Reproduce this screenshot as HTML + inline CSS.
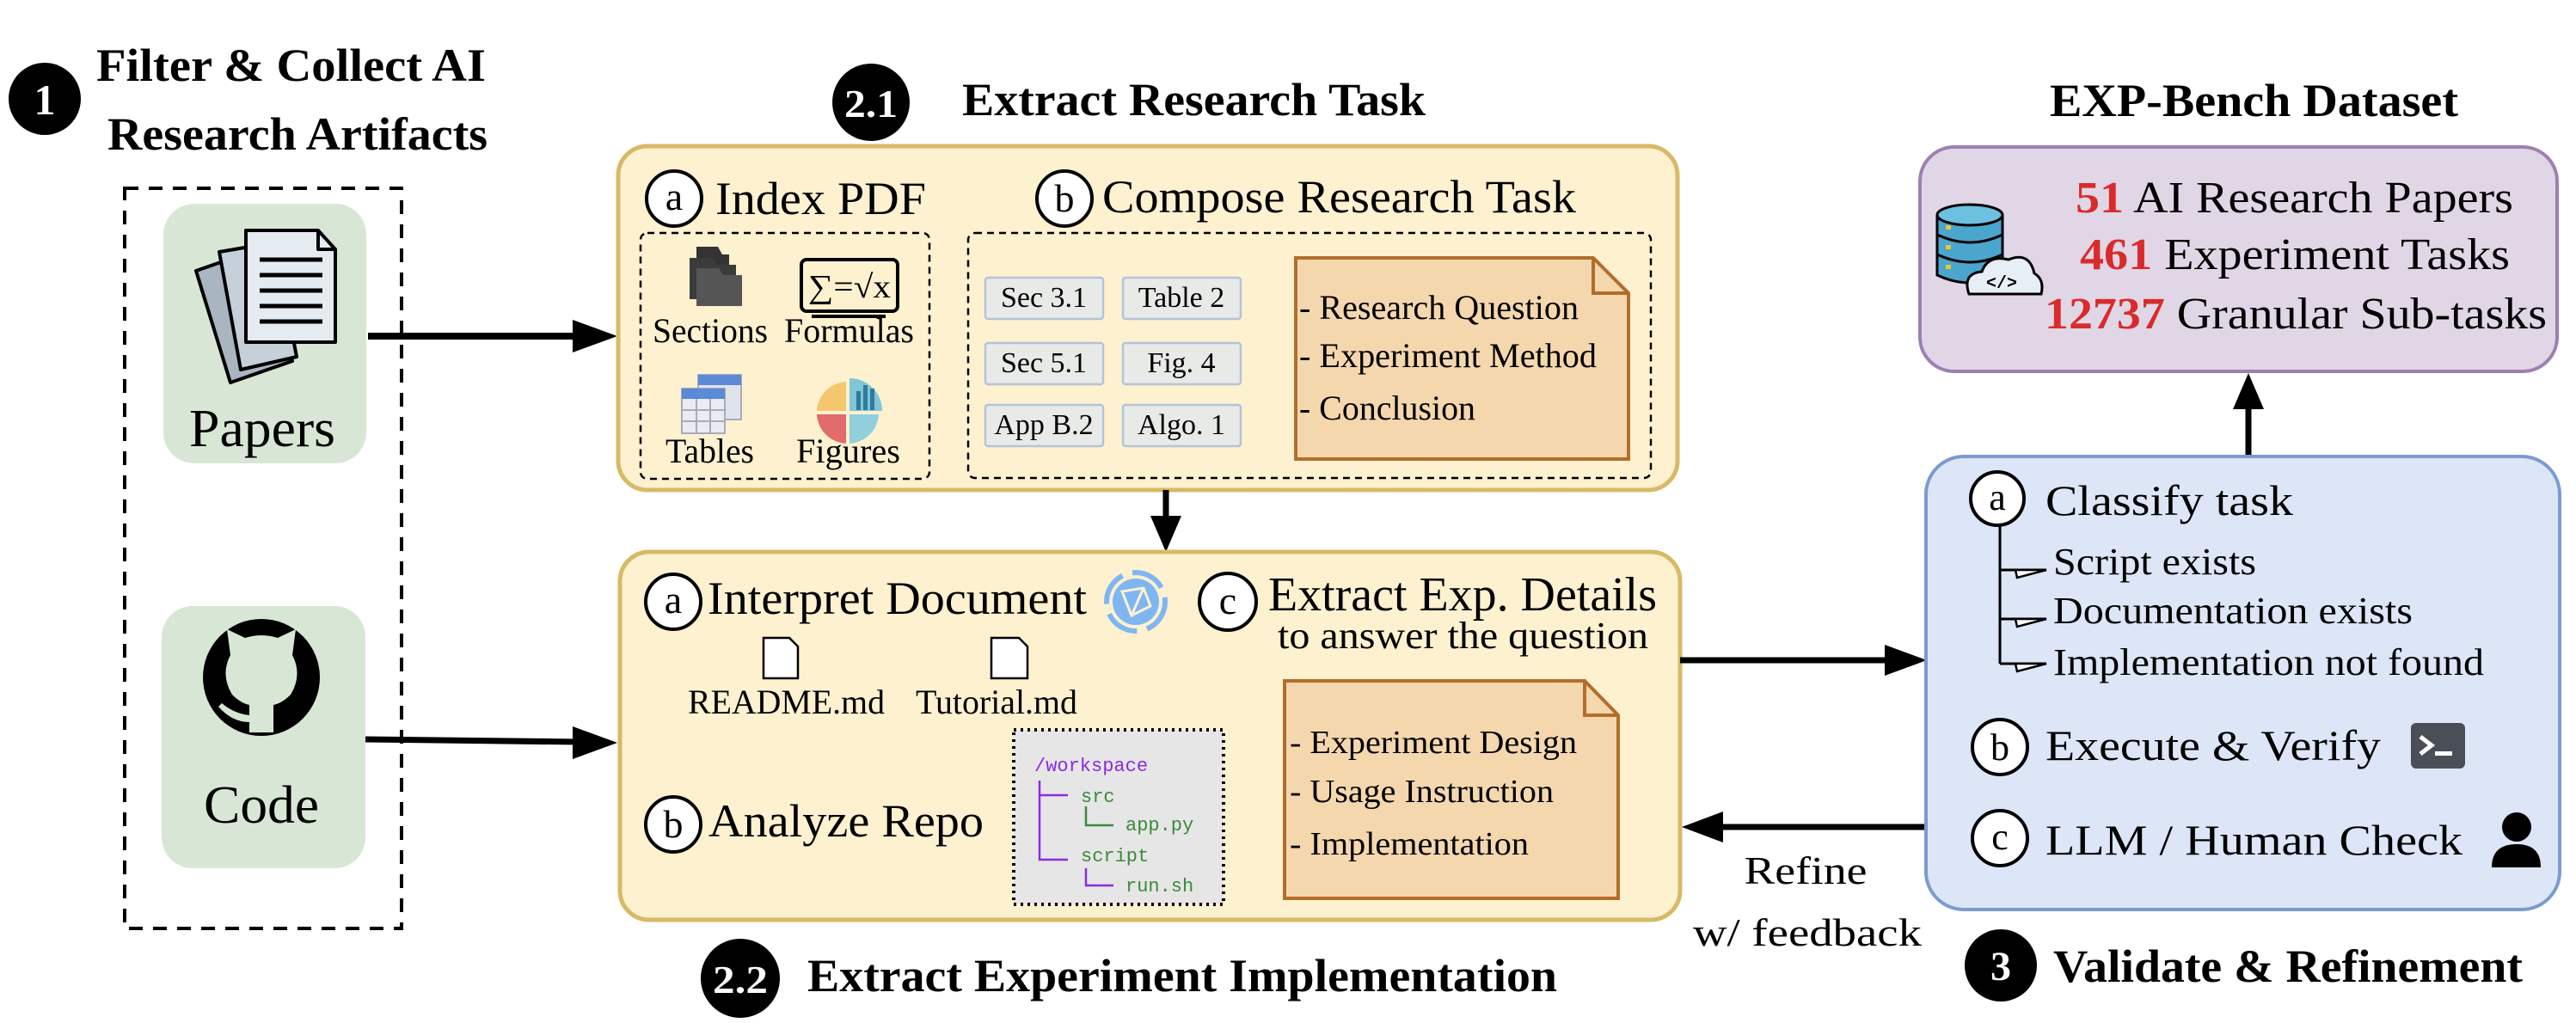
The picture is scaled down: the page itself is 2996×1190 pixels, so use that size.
<!DOCTYPE html>
<html><head><meta charset="utf-8"><style>
html,body{margin:0;padding:0;background:#fff;}
svg{display:block;}
text{font-family:"Liberation Serif",serif;fill:#000;}
.mono{font-family:"Liberation Mono",monospace;}
</style></head><body>
<svg width="2996" height="1190" viewBox="0 0 2996 1190" xmlns="http://www.w3.org/2000/svg">
<defs>
<marker id="ah" markerWidth="8" markerHeight="6" refX="7" refY="3" orient="auto" markerUnits="strokeWidth"><path d="M0,0 L8,3 L0,6 Z" fill="#000"/></marker>
</defs>

<!-- Section 1 -->
<circle cx="52" cy="115" r="42" fill="#000"/>
<text x="52" y="133" font-size="50" font-weight="bold" text-anchor="middle" style="fill:#fff">1</text>
<text x="112" y="94" font-size="54" font-weight="bold" textLength="453" lengthAdjust="spacingAndGlyphs">Filter &amp; Collect AI</text>
<text x="125" y="174" font-size="54" font-weight="bold" textLength="442" lengthAdjust="spacingAndGlyphs">Research Artifacts</text>
<rect x="145" y="219" width="322" height="861" fill="none" stroke="#000" stroke-width="4" stroke-dasharray="16,12"/>
<rect x="190" y="237" width="236" height="302" rx="36" fill="#d8e7d5"/>
<rect x="188" y="705" width="237" height="305" rx="36" fill="#d8e7d5"/>
<!-- papers icon -->
<g stroke="#000" stroke-width="4" stroke-linejoin="round">
<path d="M228,315 L300,290 L340,420 L268,445 Z" fill="#aab5c2"/>
<path d="M255,293 L320,282 L345,415 L280,430 Z" fill="#c6d0db"/>
<path d="M286,268 L370,268 L390,290 L390,398 L286,398 Z" fill="#e4ebf1"/>
<path d="M370,268 L370,290 L390,290" fill="none"/>
</g>
<g stroke="#000" stroke-width="5"><line x1="302" y1="302" x2="375" y2="302"/><line x1="302" y1="320" x2="375" y2="320"/><line x1="302" y1="338" x2="375" y2="338"/><line x1="302" y1="356" x2="375" y2="356"/><line x1="302" y1="374" x2="375" y2="374"/></g>
<text x="305" y="519" font-size="62" text-anchor="middle" textLength="170" lengthAdjust="spacingAndGlyphs">Papers</text>
<!-- github icon -->
<circle cx="304" cy="788" r="68" fill="#000"/>
<path d="M268,762 L264,732 L285,742 Q304,736 323,742 L344,732 L340,762 Q352,785 338,808 Q328,818 318,820 L318,852 L290,852 L290,820 Q280,818 270,808 Q256,785 268,762 Z" fill="#d8e7d5"/>
<path d="M258,818 Q272,830 290,832 L290,840 Q270,840 254,822 Z" fill="#d8e7d5"/>
<text x="304" y="957" font-size="62" text-anchor="middle" textLength="134" lengthAdjust="spacingAndGlyphs">Code</text>
<!-- arrows from papers/code -->
<line x1="428" y1="391" x2="672" y2="391" stroke="#000" stroke-width="8"/>
<path d="M718,391 L666,372 L666,410 Z" fill="#000"/>
<line x1="425" y1="860" x2="672" y2="863" stroke="#000" stroke-width="7"/>
<path d="M718,864 L666,845 L666,883 Z" fill="#000"/>

<!-- 2.1 -->
<circle cx="1013" cy="119" r="45" fill="#000"/>
<text x="1013" y="136" font-size="46" font-weight="bold" text-anchor="middle" style="fill:#fff" textLength="62" lengthAdjust="spacingAndGlyphs">2.1</text>
<text x="1119" y="134" font-size="54" font-weight="bold" textLength="539" lengthAdjust="spacingAndGlyphs">Extract Research Task</text>
<rect x="719" y="170" width="1232" height="400" rx="34" fill="#fdf1d0" stroke="#d8b966" stroke-width="5"/>
<circle cx="784" cy="231" r="32" fill="#fff" stroke="#000" stroke-width="4"/>
<text x="784" y="244" font-size="46" text-anchor="middle">a</text>
<text x="832" y="249" font-size="54" textLength="245" lengthAdjust="spacingAndGlyphs">Index PDF</text>
<rect x="745" y="271" width="336" height="286" rx="8" fill="none" stroke="#000" stroke-width="2.5" stroke-dasharray="8,6"/>
<!-- sections icon -->
<g fill="#4b4b4b"><path d="M810,287 L835,287 L840,296 L848,296 L848,340 L810,340 Z" fill="#333"/><path d="M802,300 L828,300 L833,308 L856,308 L856,348 L802,348 Z" fill="#3b3b3b"/><path d="M810,312 L836,312 L841,320 L863,320 L863,356 L810,356 Z" fill="#555"/></g>
<!-- formulas icon -->
<rect x="932" y="302" width="112" height="60" rx="6" fill="none" stroke="#000" stroke-width="4"/>
<text x="988" y="346" font-size="38" text-anchor="middle" textLength="96" lengthAdjust="spacingAndGlyphs">∑=√x</text>
<line x1="944" y1="368" x2="1030" y2="368" stroke="#000" stroke-width="4"/>
<text x="759" y="398" font-size="40" textLength="134" lengthAdjust="spacingAndGlyphs">Sections</text>
<text x="912" y="398" font-size="40" textLength="151" lengthAdjust="spacingAndGlyphs">Formulas</text>
<!-- tables icon -->
<g><rect x="812" y="436" width="50" height="52" fill="#dfe3ea" stroke="#aab" stroke-width="2"/><rect x="812" y="436" width="50" height="12" fill="#5b8ad6"/>
<rect x="793" y="452" width="50" height="52" fill="#e9ecf1" stroke="#aab" stroke-width="2"/><rect x="793" y="452" width="50" height="12" fill="#5b8ad6"/>
<path d="M793,477 H843 M793,490 H843 M810,464 V504 M826,464 V504" stroke="#aab" stroke-width="2"/></g>
<!-- figures icon -->
<g><path d="M988,440 L988,478 L1026,478 A38,38 0 0 0 988,440 Z" fill="#7fc6d6"/><path d="M984,444 A36,36 0 0 0 950,478 L984,478 Z" fill="#f4c76e"/><path d="M950,482 A36,36 0 0 0 984,516 L984,482 Z" fill="#e26b6b"/><path d="M988,482 L988,516 A36,36 0 0 0 1022,482 Z" fill="#8fd0dc"/>
<rect x="996" y="455" width="5" height="22" fill="#2f7aa0"/><rect x="1004" y="448" width="5" height="29" fill="#2f7aa0"/><rect x="1012" y="452" width="5" height="25" fill="#2f7aa0"/></g>
<text x="774" y="538" font-size="40" textLength="103" lengthAdjust="spacingAndGlyphs">Tables</text>
<text x="926" y="538" font-size="40" textLength="121" lengthAdjust="spacingAndGlyphs">Figures</text>

<circle cx="1238" cy="231" r="32" fill="#fff" stroke="#000" stroke-width="4"/>
<text x="1238" y="246" font-size="46" text-anchor="middle">b</text>
<text x="1282" y="247" font-size="54" textLength="551" lengthAdjust="spacingAndGlyphs">Compose Research Task</text>
<rect x="1126" y="271" width="794" height="285" rx="8" fill="none" stroke="#000" stroke-width="2.5" stroke-dasharray="8,6"/>
<g fill="#e8eae8" stroke="#b3c3d8" stroke-width="2.5">
<rect x="1146" y="323" width="137" height="48" rx="3"/><rect x="1306" y="323" width="137" height="48" rx="3"/>
<rect x="1146" y="399" width="137" height="48" rx="3"/><rect x="1306" y="399" width="137" height="48" rx="3"/>
<rect x="1146" y="471" width="137" height="48" rx="3"/><rect x="1306" y="471" width="137" height="48" rx="3"/>
</g>
<g font-size="34" text-anchor="middle">
<text x="1214" y="357">Sec 3.1</text><text x="1374" y="357">Table 2</text>
<text x="1214" y="433">Sec 5.1</text><text x="1374" y="433">Fig. 4</text>
<text x="1214" y="505">App B.2</text><text x="1374" y="505">Algo. 1</text>
</g>
<path d="M1507,300 L1853,300 L1894,341 L1894,534 L1507,534 Z" fill="#f5d7ae" stroke="#b36e2b" stroke-width="4"/>
<path d="M1853,300 L1853,341 L1894,341" fill="none" stroke="#b36e2b" stroke-width="4"/>
<text x="1511" y="371" font-size="40" textLength="325" lengthAdjust="spacingAndGlyphs">- Research Question</text>
<text x="1511" y="427" font-size="40" textLength="346" lengthAdjust="spacingAndGlyphs">- Experiment Method</text>
<text x="1511" y="488" font-size="40" textLength="205" lengthAdjust="spacingAndGlyphs">- Conclusion</text>

<!-- down arrow -->
<line x1="1356" y1="570" x2="1356" y2="604" stroke="#000" stroke-width="7"/>
<path d="M1356,642 L1338,600 L1374,600 Z" fill="#000"/>

<!-- 2.2 -->
<rect x="721" y="642" width="1233" height="428" rx="34" fill="#fdf1d0" stroke="#d8b966" stroke-width="5"/>
<circle cx="783" cy="700" r="32" fill="#fff" stroke="#000" stroke-width="4"/>
<text x="783" y="713" font-size="46" text-anchor="middle">a</text>
<text x="823" y="714" font-size="54" textLength="441" lengthAdjust="spacingAndGlyphs">Interpret Document</text>
<!-- globe -->
<circle cx="1321" cy="700" r="27" fill="#7fb6f2"/>
<circle cx="1321" cy="700" r="34" fill="none" stroke="#7fb6f2" stroke-width="6" stroke-dasharray="40,12"/>
<path d="M1305,688 L1330,684 L1338,705 L1316,716 Z M1305,688 L1316,716 M1330,684 L1316,716" stroke="#fdf1d0" stroke-width="3" fill="none"/>
<circle cx="1428" cy="700" r="33" fill="#fff" stroke="#000" stroke-width="4"/>
<text x="1428" y="714" font-size="46" text-anchor="middle">c</text>
<text x="1475" y="710" font-size="56" textLength="452" lengthAdjust="spacingAndGlyphs">Extract Exp. Details</text>
<text x="1486" y="754" font-size="44" textLength="431" lengthAdjust="spacingAndGlyphs">to answer the question</text>
<!-- file icons -->
<g fill="#fff" stroke="#000" stroke-width="2.5"><path d="M888,742 L918,742 L928,752 L928,789 L888,789 Z"/><path d="M1153,742 L1185,742 L1195,752 L1195,789 L1153,789 Z"/></g>
<text x="800" y="830" font-size="40" textLength="229" lengthAdjust="spacingAndGlyphs">README.md</text>
<text x="1065" y="830" font-size="40" textLength="188" lengthAdjust="spacingAndGlyphs">Tutorial.md</text>
<circle cx="783" cy="959" r="32" fill="#fff" stroke="#000" stroke-width="4"/>
<text x="783" y="974" font-size="46" text-anchor="middle">b</text>
<text x="824" y="973" font-size="54" textLength="320" lengthAdjust="spacingAndGlyphs">Analyze Repo</text>
<!-- code box -->
<rect x="1179" y="849" width="244" height="203" fill="#e6e6e6" stroke="#000" stroke-width="4" stroke-dasharray="3,5"/>
<g class="mono" font-size="22">
<text x="1203" y="897" class="mono" style="fill:#8a2be2">/workspace</text>
<text x="1257" y="933" class="mono" style="fill:#3a8a3a">src</text>
<text x="1309" y="966" class="mono" style="fill:#3a8a3a">app.py</text>
<text x="1257" y="1002" class="mono" style="fill:#3a8a3a">script</text>
<text x="1309" y="1037" class="mono" style="fill:#3a8a3a">run.sh</text>
</g>
<g stroke="#8a2be2" stroke-width="2.5" fill="none"><path d="M1209,908 V1000 H1242 M1209,925 H1242"/></g>
<g stroke="#3a8a3a" stroke-width="2.5" fill="none"><path d="M1263,938 V960 H1295"/></g>
<g stroke="#8a2be2" stroke-width="2.5" fill="none"><path d="M1263,1010 V1030 H1295"/></g>
<path d="M1494,792 L1843,792 L1882,832 L1882,1045 L1494,1045 Z" fill="#f5d7ae" stroke="#b36e2b" stroke-width="4"/>
<path d="M1843,792 L1843,832 L1882,832" fill="none" stroke="#b36e2b" stroke-width="4"/>
<text x="1500" y="876" font-size="38" textLength="334" lengthAdjust="spacingAndGlyphs">- Experiment Design</text>
<text x="1500" y="933" font-size="38" textLength="307" lengthAdjust="spacingAndGlyphs">- Usage Instruction</text>
<text x="1500" y="994" font-size="38" textLength="278" lengthAdjust="spacingAndGlyphs">- Implementation</text>
<circle cx="861" cy="1138" r="46" fill="#000"/>
<text x="861" y="1155" font-size="46" font-weight="bold" text-anchor="middle" style="fill:#fff" textLength="64" lengthAdjust="spacingAndGlyphs">2.2</text>
<text x="939" y="1153" font-size="54" font-weight="bold" textLength="872" lengthAdjust="spacingAndGlyphs">Extract Experiment Implementation</text>

<!-- arrows 2.2 <-> validate -->
<line x1="1954" y1="768" x2="2196" y2="768" stroke="#000" stroke-width="7"/>
<path d="M2241,768 L2192,750 L2192,786 Z" fill="#000"/>
<line x1="2240" y1="962" x2="2000" y2="962" stroke="#000" stroke-width="7"/>
<path d="M1956,962 L2004,944 L2004,980 Z" fill="#000"/>
<text x="2100" y="1028" font-size="46" text-anchor="middle" textLength="143" lengthAdjust="spacingAndGlyphs">Refine</text>
<text x="2102" y="1100" font-size="46" text-anchor="middle" textLength="266" lengthAdjust="spacingAndGlyphs">w/ feedback</text>

<!-- EXP-bench -->
<text x="2384" y="135" font-size="54" font-weight="bold" textLength="475" lengthAdjust="spacingAndGlyphs">EXP-Bench Dataset</text>
<rect x="2233" y="171" width="741" height="261" rx="40" fill="#e1d6e6" stroke="#9c80b2" stroke-width="4"/>
<!-- db icon -->
<g stroke="#000" stroke-width="3">
<path d="M2253,250 V320 Q2291,338 2329,320 V250" fill="#4aa6cc"/>
<ellipse cx="2291" cy="250" rx="38" ry="12" fill="#6cc0e0"/>
<path d="M2253,273 Q2291,291 2329,273 M2253,296 Q2291,314 2329,296" fill="none"/>
<path d="M2290,342 Q2282,318 2305,316 Q2312,296 2336,302 Q2360,292 2366,318 Q2378,325 2374,342 Z" fill="#e8eef5"/>
</g>
<g fill="#f2c230"><rect x="2263" y="262" width="6" height="5"/><rect x="2263" y="285" width="6" height="5"/><rect x="2263" y="308" width="6" height="5"/></g>
<text x="2328" y="335" font-size="20" font-weight="bold" text-anchor="middle" class="mono">&lt;/&gt;</text>
<g font-size="52">
<text x="2414" y="247" textLength="509" lengthAdjust="spacingAndGlyphs"><tspan style="fill:#d92b2b;font-weight:bold">51</tspan> AI Research Papers</text>
<text x="2419" y="313" textLength="500" lengthAdjust="spacingAndGlyphs"><tspan style="fill:#d92b2b;font-weight:bold">461</tspan> Experiment Tasks</text>
<text x="2378" y="382" textLength="584" lengthAdjust="spacingAndGlyphs"><tspan style="fill:#d92b2b;font-weight:bold">12737</tspan> Granular Sub-tasks</text>
</g>
<line x1="2615" y1="531" x2="2615" y2="470" stroke="#000" stroke-width="7"/>
<path d="M2615,434 L2597,476 L2633,476 Z" fill="#000"/>

<!-- validate -->
<rect x="2240" y="531" width="737" height="527" rx="44" fill="#dde6f7" stroke="#7b9bcf" stroke-width="4"/>
<circle cx="2323" cy="580" r="31" fill="#fff" stroke="#000" stroke-width="4"/>
<text x="2323" y="593" font-size="44" text-anchor="middle">a</text>
<text x="2379" y="599" font-size="50" textLength="288" lengthAdjust="spacingAndGlyphs">Classify task</text>
<path d="M2326,611 V772 M2326,663 H2380 M2326,720 H2380 M2326,772 H2380" stroke="#000" stroke-width="3" fill="none"/>
<g fill="#fff" stroke="#000" stroke-width="2.5"><path d="M2344,663 L2380,663 L2346,672 Z"/><path d="M2344,720 L2380,720 L2346,729 Z"/><path d="M2344,772 L2380,772 L2346,781 Z"/></g>
<text x="2388" y="668" font-size="44" textLength="236" lengthAdjust="spacingAndGlyphs">Script exists</text>
<text x="2388" y="725" font-size="44" textLength="418" lengthAdjust="spacingAndGlyphs">Documentation exists</text>
<text x="2388" y="785" font-size="44" textLength="501" lengthAdjust="spacingAndGlyphs">Implementation not found</text>
<circle cx="2326" cy="869" r="32" fill="#fff" stroke="#000" stroke-width="4"/>
<text x="2326" y="884" font-size="44" text-anchor="middle">b</text>
<text x="2379" y="884" font-size="50" textLength="390" lengthAdjust="spacingAndGlyphs">Execute &amp; Verify</text>
<rect x="2804" y="841" width="63" height="53" rx="6" fill="#4a4f57"/>
<path d="M2815,857 L2828,867 L2815,877" stroke="#fff" stroke-width="5" fill="none"/>
<rect x="2832" y="874" width="20" height="5" fill="#fff"/>
<circle cx="2326" cy="975" r="32" fill="#fff" stroke="#000" stroke-width="4"/>
<text x="2326" y="988" font-size="44" text-anchor="middle">c</text>
<text x="2379" y="994" font-size="50" textLength="485" lengthAdjust="spacingAndGlyphs">LLM / Human Check</text>
<circle cx="2927" cy="962" r="17" fill="#000"/>
<path d="M2898,1009 Q2898,982 2927,982 Q2955,982 2955,1009 Z" fill="#000"/>
<circle cx="2327" cy="1123" r="42" fill="#000"/>
<text x="2327" y="1140" font-size="48" font-weight="bold" text-anchor="middle" style="fill:#fff">3</text>
<text x="2388" y="1142" font-size="54" font-weight="bold" textLength="546" lengthAdjust="spacingAndGlyphs">Validate &amp; Refinement</text>
</svg>
</body></html>
